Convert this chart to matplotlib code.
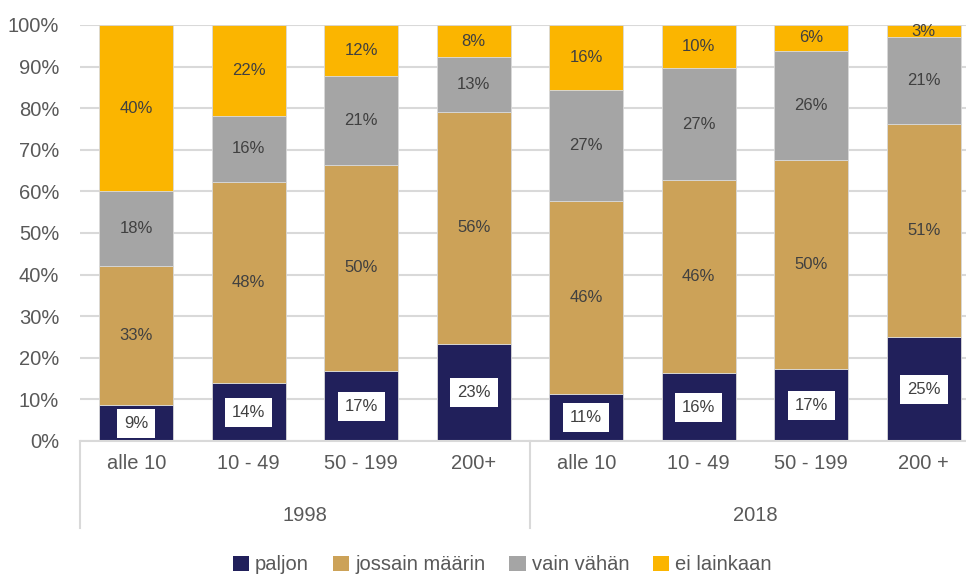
import matplotlib.pyplot as plt
import numpy as np
from matplotlib.patches import Patch

# categories (size classes) and survey years
categories = ["alle 10", "10 - 49", "50 - 199", "200+", "alle 10", "10 - 49", "50 - 199", "200 +"]
years = ["1998", "2018"]

# shares (%) per answer
paljon = [8.6, 13.9, 16.8, 23.4, 11.3, 16.3, 17.3, 25.0]
jossain = [33.4, 48.4, 49.6, 55.7, 46.3, 46.4, 50.2, 51.2]
vain = [18.0, 15.8, 21.4, 13.2, 26.8, 27.0, 26.3, 20.9]
ei = [40.0, 21.9, 12.2, 7.7, 15.6, 10.3, 6.2, 2.9]

series_names = ["paljon", "jossain määrin", "vain vähän", "ei lainkaan"]
colors = ["#21205B", "#CCA258", "#A5A5A5", "#FBB500"]

plt.rcParams['font.family'] = ['Liberation Sans', 'DejaVu Sans']

fig = plt.figure(figsize=(9.66, 5.74), dpi=100)
ax = fig.add_axes([80 / 966, 1 - 441 / 574, 900 / 966, 416 / 574])

x = np.arange(len(categories))
bottom = np.zeros(len(categories))
for i, vals in enumerate([paljon, jossain, vain, ei]):
    vals = np.array(vals)
    ax.bar(x, vals, 0.66, bottom=bottom, color=colors[i], edgecolor="#D9D9D9", linewidth=0.6, zorder=2)
    for xi, b, v in zip(x, bottom, vals):
        if i == 0:
            ax.text(xi, b + v / 2, f"{round(v)}%", ha="center", va="center", fontsize=12, color="#404040",
                    bbox=dict(facecolor="white", edgecolor="none", pad=5), zorder=3)
        else:
            ax.text(xi, b + v / 2, f"{round(v)}%", ha="center", va="center", fontsize=12, color="#404040",
                    zorder=3, clip_on=False)
    bottom += vals

ax.set_xlim(-0.5, 7.5)
ax.set_ylim(0, 100)
ax.set_yticks(range(0, 101, 10))
ax.set_yticklabels([f"{t}%" for t in range(0, 101, 10)], fontsize=14.5, color="#595959")
ax.yaxis.grid(True, color="#D9D9D9", linewidth=1.5, zorder=0)
ax.set_axisbelow(True)
ax.tick_params(axis="y", length=0, pad=15)
ax.set_xticks([])
for s in ["top", "right", "left"]:
    ax.spines[s].set_visible(False)
ax.spines["bottom"].set_color("#D9D9D9")
ax.spines["bottom"].set_linewidth(1.5)

# two-level category axis
trans = ax.get_xaxis_transform()
for xi, c in zip(x, categories):
    ax.text(xi, -0.055, c, transform=trans, ha="center", va="center", fontsize=14.5, color="#595959")
for j, yr in enumerate(years):
    ax.text(j * 4 + 1.5, -0.18, yr, transform=trans, ha="center", va="center", fontsize=14.5, color="#595959")
for sep in [-0.5, 3.5, 7.5]:
    ax.plot([sep, sep], [0, -0.21], transform=trans, color="#D9D9D9", linewidth=1.5, clip_on=False)

handles = [Patch(facecolor=c, label=n) for c, n in zip(colors, series_names)]
fig.legend(handles=handles, loc="center", bbox_to_anchor=(0.52, 0.016), ncol=4, frameon=False,
           fontsize=14.5, handlelength=0.8, handleheight=0.8, handletextpad=0.3, columnspacing=1.2,
           labelcolor="#595959")

fig.savefig("out.png", dpi=100)
